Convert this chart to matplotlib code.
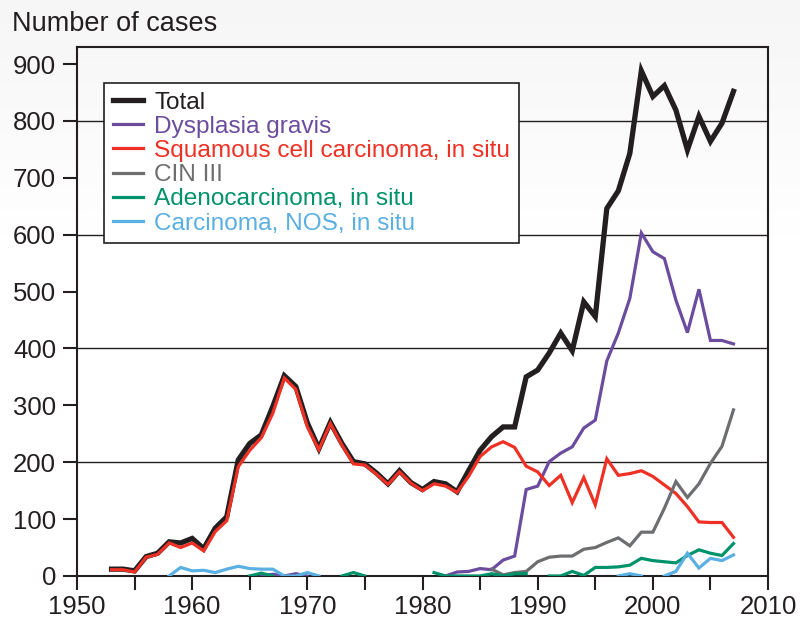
import numpy as np
import matplotlib.pyplot as plt
from matplotlib.lines import Line2D

plt.rcParams['font.family'] = ['Liberation Sans', 'DejaVu Sans']

nan = np.nan
years = list(range(1953, 2008))

total = [12, 12, 9, 34, 40, 60, 58, 66, 48, 84, 104, 204, 233, 248, 298, 352, 333, 269,
         224, 270, 233, 201, 197, 181, 162, 185, 164, 152, 166, 162, 148, 185, 221, 245,
         262, 262, 350, 362, 392, 427, 396, 482, 456, 646, 677, 743, 888, 843, 862, 819,
         749, 808, 764, 796, 852]

squamous = [11, 11, 7, 33, 38, 58, 50, 58, 44, 78, 97, 192, 221, 243, 286, 348, 328, 262,
            222, 268, 230, 197, 195, 179, 161, 183, 163, 150, 162, 158, 147, 175, 210, 227,
            236, 226, 193, 183, 159, 177, 129, 173, 125, 206, 177, 180, 185, 175, 160, 145,
            122, 95, 94, 94, 68]

dysplasia = [nan] * 13 + [0, 3, 0, 4, 0] + [nan] * 11 + \
            [0, 7, 8, 13, 11, 28, 35, 152, 158, 201, 216, 227, 260, 274, 378, 427, 488,
             603, 570, 558, 485, 428, 504, 414, 414, 408]

cin3 = [nan] * 33 + [12, 2, 6, 8, 25, 33, 35, 35, 47, 50, 59, 67, 53, 77, 77, 119, 166,
                     138, 162, 198, 228, 292]

adeno = [nan] * 12 + [0, 5, 0] + [nan] * 5 + [0, 6, 0] + [nan] * 5 + \
        [6, 0, 0, 0, 0, 4, 0, 4, 4, nan, 0, 0, 8, 1, 15, 15, 16, 19, 31, 27, 25, 23,
         36, 46, 40, 36, 57]

nos = [nan] * 5 + [0, 15, 9, 10, 6, 12, 17, 13, 12, 12, 0, 0, 6, 0] + [nan] * 25 + \
      [0, 4, 0, nan, 0, 8, 40, 14, 31, 27, 37]

labels = ['Total', 'Dysplasia gravis', 'Squamous cell carcinoma, in situ', 'CIN III',
          'Adenocarcinoma, in situ', 'Carcinoma, NOS, in situ']
colors = ['#231f20', '#6b4c9e', '#ee3124', '#6d6e70', '#00936b', '#5aafe3']
widths = [3.8, 2.3, 2.3, 2.3, 2.3, 2.3]
series = [total, dysplasia, squamous, cin3, adeno, nos]

fig = plt.figure(figsize=(8, 6.18), dpi=100)

# light grey fade at the top of the picture
bg = fig.add_axes([0, 0, 1, 1], zorder=-10)
bg.axis('off')
fade = np.clip(np.linspace(0, 1, 300) / 0.4, 0, 1)[:, None]
bg.imshow(fade, cmap='Greys_r', vmin=-12, vmax=1, aspect='auto', extent=[0, 1, 0, 1])

ax = fig.add_axes([0.09625, 0.068, 0.8638, 0.856])
ax.set_facecolor('none')

for y, c, lw in zip(series, colors, widths):
    ax.plot(years, y, color=c, lw=lw, solid_joinstyle='miter', zorder=3)

ax.set_xlim(1950, 2010)
ax.set_ylim(0, 930)
ax.set_xticks(range(1950, 2011, 10))
ax.set_xticks(range(1955, 2010, 10), minor=True)
ax.set_yticks(range(0, 901, 100))
for v in range(200, 900, 200):
    ax.axhline(v, color='#231f20', lw=1.0, zorder=1)

ax.tick_params(axis='both', which='both', direction='out', length=10, width=1.5,
               color='#231f20', labelsize=18.5, labelcolor='#231f20')
ax.tick_params(axis='x', pad=4)
ax.tick_params(axis='y', pad=5)
for s in ax.spines.values():
    s.set_color('#231f20')
    s.set_linewidth(1.5)

handles = [Line2D([], [], color=c, lw=lw) for c, lw in zip(colors, widths)]
leg = ax.legend(handles, labels, loc='upper left', bbox_to_anchor=(0.039, 0.932),
                borderaxespad=0, fontsize=17.6, frameon=True, fancybox=False,
                edgecolor='#231f20', facecolor='white', framealpha=1,
                labelspacing=0.085, handlelength=1.25, handletextpad=0.45,
                borderpad=0.35)
leg.get_frame().set_linewidth(1.2)
leg.set_zorder(5)
for t, c in zip(leg.get_texts(), colors):
    t.set_color(c)

fig.text(0.015, 0.961, 'Number of cases', fontsize=19.5, color='#231f20', va='center')

fig.savefig('out.png', dpi=100)
